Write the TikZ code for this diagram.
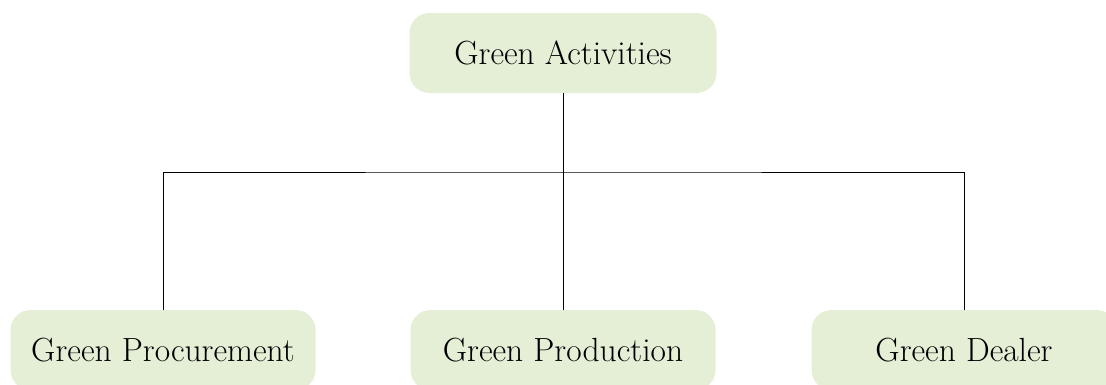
\documentclass[tikz,border=0pt]{standalone}
\usepackage{tikz}

\definecolor{boxgreen}{RGB}{228,239,214}
\tikzset{
  gbox/.style={fill=boxgreen, rounded corners=20pt, minimum width=305pt,
    minimum height=80pt, inner sep=0pt, font=\fontsize{33.5}{38}\selectfont},
  link/.style={line width=1pt}
}

\begin{document}
\begin{tikzpicture}[x=1pt,y=-1pt]
  \useasboundingbox (0,0) rectangle (1106,384);
  \clip (0,0) rectangle (1106,384);
  \node[gbox, minimum width=307pt] (act) at (563,53) {Green Activities};
  \node[gbox] (proc) at (163,350) {Green Procurement};
  \node[gbox] (prod) at (563,350) {Green Production};
  \node[gbox] (deal) at (964,350) {Green Dealer};
  \coordinate (bus) at (563,172);
  \draw[link] (act.south) -- (bus);
  \draw[link] (proc.north) |- (bus) -| (deal.north);
  \draw[link] (bus) -- (prod.north);
\end{tikzpicture}
\end{document}
